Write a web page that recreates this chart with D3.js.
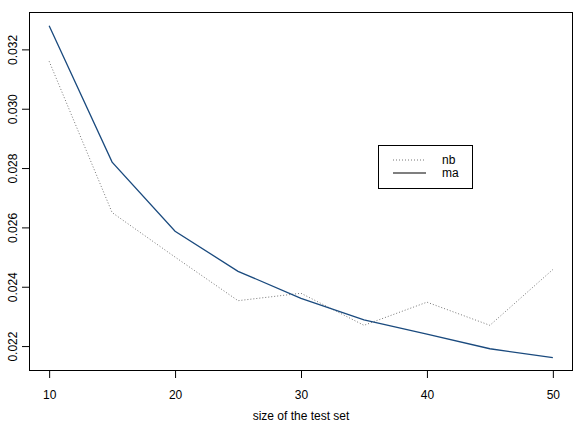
<!DOCTYPE html>
<html><head><meta charset="utf-8">
<script src="https://cdn.jsdelivr.net/npm/d3@7"></script>
<style>body{margin:0;background:#fff}svg{display:block}text{font-family:"Liberation Sans",Arial,sans-serif}</style>
</head><body><svg id="c" width="580" height="422"></svg>
<script>
const sizes = [10, 15, 20, 25, 30, 35, 40, 45, 50];
const nb = [0.0316, 0.0265, 0.0250, 0.02353, 0.02378, 0.0227, 0.02348, 0.0227, 0.02458];
const ma = [0.0328, 0.0282, 0.02587, 0.02452, 0.02361, 0.02288, 0.02240, 0.02191, 0.02161];
const xTicks = [10, 20, 30, 40, 50];
const yTicks = [0.022, 0.024, 0.026, 0.028, 0.030, 0.032];
const seriesNames = ["nb", "ma"];
const xTitle = "size of the test set";

const svg = d3.select("#c");
const L = 29, R = 573, T = 12, B = 371;
const x = d3.scaleLinear().domain([8.4, 51.6]).range([L, R]);
const y = d3.scaleLinear().domain([0.02116, 0.03326]).range([B, T]);

const xa = svg.append("g").attr("transform", `translate(0,${B})`)
  .call(d3.axisBottom(x).tickValues(xTicks).tickSize(7).tickPadding(12).tickFormat(d3.format("d")));
xa.select(".domain").remove();
xa.selectAll("text").attr("font-size", 12).attr("fill", "#000").attr("font-family", "Liberation Sans, Arial, sans-serif");
xa.selectAll("line").attr("stroke", "#000");

const ya = svg.append("g").attr("transform", `translate(${L},0)`)
  .call(d3.axisLeft(y).tickValues(yTicks).tickSize(7).tickFormat(d3.format(".3f")));
ya.select(".domain").remove();
ya.selectAll("line").attr("stroke", "#000");
ya.selectAll("text").attr("font-size", 12).attr("fill", "#000")
  .attr("font-family", "Liberation Sans, Arial, sans-serif")
  .attr("x", null).attr("dy", null)
  .attr("text-anchor", "middle")
  .attr("transform", "translate(-12.5,0) rotate(-90)")
  .attr("y", 0);

svg.append("rect").attr("x", L + 0.5).attr("y", T + 0.5).attr("width", R - L - 1).attr("height", B - T - 1)
  .attr("fill", "none").attr("stroke", "#000");

const line = d3.line().x(d => x(d[0])).y(d => y(d[1]));
svg.append("path").datum(sizes.map((s, i) => [s, nb[i]])).attr("d", line)
  .attr("fill", "none").attr("stroke", "#777").attr("stroke-width", 1).attr("stroke-dasharray", "1,2");
svg.append("path").datum(sizes.map((s, i) => [s, ma[i]])).attr("d", line)
  .attr("fill", "none").attr("stroke", "#1a4a7e").attr("stroke-width", 1.3);

svg.append("text").attr("x", (L + R) / 2).attr("y", 420).attr("text-anchor", "middle")
  .attr("font-size", 12).text(xTitle);

// legend
const lg = svg.append("g");
lg.append("rect").attr("x", 378.5).attr("y", 145.5).attr("width", 94).attr("height", 43)
  .attr("fill", "#fff").attr("stroke", "#000");
const styles = [{s: "#777", w: 1, d: "1,2"}, {s: "#000", w: 1.2, d: null}];
seriesNames.forEach((n, i) => {
  const yy = 160 + i * 13;
  lg.append("line").attr("x1", 393).attr("x2", 426).attr("y1", yy).attr("y2", yy)
    .attr("stroke", styles[i].s).attr("stroke-width", styles[i].w).attr("stroke-dasharray", styles[i].d);
  lg.append("text").attr("x", 442).attr("y", yy + 4).attr("font-size", 12).text(n);
});
</script></body></html>
